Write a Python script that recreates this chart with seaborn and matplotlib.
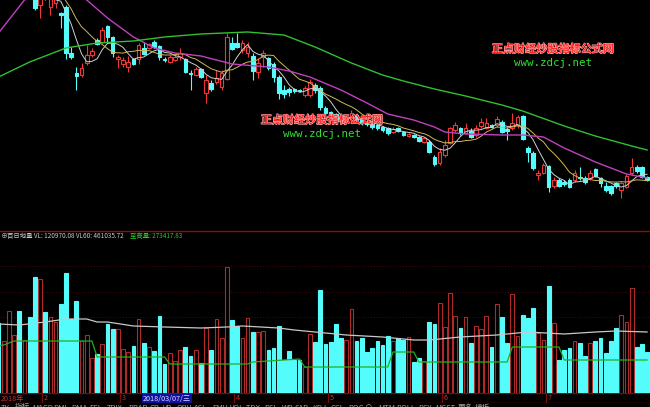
import numpy as np
import pandas as pd
import matplotlib
matplotlib.use("Agg")
import matplotlib.pyplot as plt
import matplotlib.patheffects as pe
import seaborn as sns

# daily candles, relative price units
opens = [255, 245, 250, 258, 266, 250, 256, 238, 225, 240, 223, 227, 217, 223, 177, 157, 155, 167, 175, 190,
         188, 204, 193, 171, 166, 163, 171, 171, 182, 182, 188, 184, 171, 168, 170, 173, 171, 157, 155, 161,
         137, 147, 148, 143, 151, 187, 187, 180, 177, 174, 158, 173, 172, 166, 153, 140, 141, 141, 140, 135,
         135, 145, 142, 122, 118, 116, 112, 109, 110, 115, 111, 108, 107, 105, 103, 102, 98, 102, 98, 94,
         95, 93, 88, 88, 73, 67, 75, 87, 100, 102, 97, 99, 95, 104, 102, 105, 105, 108, 101, 102,
         105, 114, 82, 77, 55, 57, 64, 44, 50, 48, 50, 50, 53, 52, 52, 61, 52, 44, 44, 47,
         40, 43, 57, 63, 63, 53]
highs = [260, 258, 265, 270, 268, 259, 258, 240, 234, 242, 235, 236, 218, 225, 183, 163, 167, 185, 182, 192,
         203, 205, 194, 175, 173, 174, 172, 187, 188, 187, 190, 185, 173, 175, 175, 182, 172, 160, 163, 162,
         155, 150, 160, 160, 197, 193, 197, 190, 188, 177, 172, 180, 173, 168, 155, 145, 143, 142, 141, 144,
         151, 147, 144, 124, 119, 117, 114, 115, 120, 116, 112, 109, 108, 106, 104, 103, 103, 103, 99, 97,
         96, 94, 93, 90, 75, 82, 90, 103, 108, 103, 107, 102, 105, 112, 112, 106, 114, 110, 103, 117,
         115, 115, 84, 79, 60, 67, 65, 53, 52, 50, 52, 60, 63, 54, 60, 62, 53, 48, 45, 48,
         48, 56, 72, 65, 64, 54]
lows = [242, 243, 248, 255, 247, 247, 236, 220, 212, 230, 215, 222, 202, 171, 171, 140, 153, 165, 173, 185,
        187, 188, 173, 162, 163, 158, 165, 166, 175, 181, 182, 170, 168, 167, 169, 170, 157, 140, 154, 152,
        127, 139, 146, 140, 150, 180, 182, 177, 173, 150, 152, 163, 160, 148, 131, 132, 134, 137, 138, 133,
        133, 137, 120, 115, 112, 108, 107, 107, 108, 108, 105, 104, 101, 100, 98, 95, 97, 98, 94, 93,
        92, 88, 87, 77, 64, 65, 73, 86, 98, 95, 96, 92, 93, 102, 101, 102, 103, 97, 90, 100,
        102, 90, 68, 60, 50, 56, 38, 42, 43, 44, 42, 48, 50, 46, 50, 53, 43, 38, 35, 42,
        32, 42, 55, 57, 52, 49]
closes = [245, 255, 262, 266, 250, 256, 240, 222, 232, 232, 232, 233, 215, 177, 173, 154, 162, 175, 179, 186,
          200, 193, 177, 173, 170, 168, 166, 185, 176, 186, 183, 173, 170, 173, 173, 177, 158, 156, 161, 153,
          150, 141, 152, 157, 193, 181, 183, 187, 183, 159, 167, 177, 162, 153, 137, 136, 138, 139, 139, 142,
          148, 140, 123, 117, 114, 110, 109, 113, 117, 110, 107, 106, 103, 102, 100, 97, 101, 99, 95, 96,
          93, 89, 92, 78, 66, 78, 85, 102, 105, 97, 102, 93, 102, 108, 107, 103, 111, 98, 99, 107,
          113, 91, 78, 62, 57, 65, 43, 50, 44, 46, 43, 57, 52, 48, 57, 54, 47, 40, 37, 44,
          47, 54, 63, 59, 53, 50]
volumes = [70, 52, 82, 58, 82, 53, 76, 116, 114, 81, 76, 71, 89, 120, 74, 92, 52, 58, 35, 39,
           49, 69, 64, 64, 44, 41, 47, 74, 50, 46, 42, 77, 29, 40, 32, 43, 46, 37, 43, 30,
           65, 43, 74, 55, 126, 73, 67, 55, 75, 61, 61, 62, 43, 45, 67, 33, 42, 33, 33, 26,
           59, 51, 103, 49, 51, 69, 55, 53, 84, 52, 55, 41, 45, 52, 48, 57, 52, 55, 53, 56,
           31, 35, 32, 71, 69, 90, 66, 100, 77, 65, 76, 50, 67, 64, 77, 46, 89, 76, 50, 99,
           57, 78, 75, 85, 60, 53, 107, 70, 33, 43, 45, 52, 50, 37, 50, 52, 55, 40, 52, 65,
           78, 71, 105, 46, 49, 41]

# long moving averages (day index, value)
ma20_days = [0, 5, 10, 14, 17, 21, 26, 30, 34, 39, 45, 52, 56, 60, 66, 71, 75, 80, 84, 86, 90, 97, 101, 105,
             109, 115, 121, 125]
ma20_vals = [197, 230, 243, 240, 230, 212, 193, 182, 177, 174, 166, 163, 159, 153, 140, 127, 116, 110, 103, 98,
             96, 95, 95, 93, 82, 68, 56, 52]
ma60_days = [0, 6, 13, 19, 26, 32, 39, 48, 55, 61, 68, 74, 78, 84, 90, 97, 101, 109, 115, 122, 125]
ma60_vals = [153, 168, 182, 187, 189, 193, 196, 198, 195, 183, 167, 155, 149, 141, 134, 125, 119, 104, 94, 84, 80]

# volume lines
vl60_days = [0, 4, 9, 13, 17, 19, 21, 26, 32, 39, 44, 47, 54, 57, 61, 67, 74, 80, 83, 89, 96, 102, 109, 115,
             119, 125]
vl60_vals = [69, 68, 71, 74, 74, 71, 71, 67, 66, 65, 66, 67, 65, 63, 61, 58, 56, 53, 53, 56, 58, 61, 59, 61,
             62, 61]
low_days = [0, 1, 2, 3, 18, 19, 32, 33, 48, 49, 58, 59, 75, 76, 80, 81, 98, 99, 108, 109, 125]
low_vals = [47, 48, 50, 52, 52, 36, 36, 29, 29, 31, 34, 26, 26, 41, 41, 31, 31, 46, 46, 33, 33]

month_labels = ["2018年", "2", "3", "4", "5", "6", "7"]
month_days = [0, 9, 24, 46, 64, 86, 106]

RED = "#f03838"
VRED = "#b02a2a"
CYAN = "#54fcfc"

sns.set_theme(style="dark", rc={"axes.facecolor": "black", "figure.facecolor": "black"})
plt.rcParams["font.family"] = ["Noto Sans CJK SC", "DejaVu Sans"]

W, H = 650, 407
fig = plt.figure(figsize=(6.5, 4.07), dpi=100, facecolor="black")
ax = fig.add_axes([0, 1 - 229 / H, 1, 229 / H])
axv = fig.add_axes([0, (H - 393) / H, 1, (393 - 230) / H])
axd = fig.add_axes([0, (H - 403) / H, 1, 10 / H])

df = pd.DataFrame({"day": np.arange(len(closes)), "open": opens, "high": highs,
                   "low": lows, "close": closes, "vol": volumes})
df["up"] = df["close"] >= df["open"]
df["ma5"] = df["close"].rolling(5, min_periods=1).mean()
df["ma10"] = df["close"].rolling(10, min_periods=1).mean()

xlim = (1.5 / 5.19, (W + 1.5) / 5.19)

# candles
for up, col in [(True, RED), (False, CYAN)]:
    d = df[df["up"] == up]
    ax.vlines(d["day"], d["low"], d["high"], color=col, linewidth=0.8, zorder=2)
    body = (d["close"] - d["open"]).abs().clip(lower=0.8)
    ax.bar(d["day"], body, bottom=d[["open", "close"]].min(axis=1), width=0.7,
           facecolor="black" if up else col, edgecolor=col, linewidth=0.8, zorder=3)

sns.lineplot(x=df["day"], y=df["ma5"], ax=ax, color="#d0d0d0", linewidth=0.7, zorder=4)
sns.lineplot(x=df["day"], y=df["ma10"], ax=ax, color="#d0b858", linewidth=0.7, zorder=4)
sns.lineplot(x=ma20_days, y=ma20_vals, ax=ax, color="#c040c0", linewidth=1.0, zorder=4)
sns.lineplot(x=ma60_days, y=ma60_vals, ax=ax, color="#30c030", linewidth=1.0, zorder=4)
ax.set_xlim(*xlim)
ax.set_ylim(1, 230)

# volume
for up, col in [(True, VRED), (False, CYAN)]:
    d = df[df["up"] == up]
    axv.bar(d["day"], d["vol"], width=0.72, facecolor="black" if up else col,
            edgecolor=col, linewidth=0.8, zorder=3)
for lv in [127, 101, 76]:
    axv.axhline(lv, color="#4a0808", linewidth=0.7, linestyle=(0, (1, 2)), zorder=1)
sns.lineplot(x=vl60_days, y=vl60_vals, ax=axv, color="#c8c8c8", linewidth=0.9, zorder=4)
sns.lineplot(x=low_days, y=low_vals, ax=axv, color="#20b020", linewidth=0.9, zorder=4)
axv.axhline(162.5, color="#900c0c", linewidth=1.0)
axv.set_xlim(*xlim)
axv.set_ylim(0, 163)

for a in (ax, axv, axd):
    a.set_facecolor("black")
    a.set_xticks([])
    a.set_yticks([])
    a.set_xlabel("")
    a.set_ylabel("")
    for s in a.spines.values():
        s.set_visible(False)

# date strip
axd.set_xlim(*xlim)
axd.set_ylim(0, 1)
axd.axhline(0.97, color="#7a0c0c", linewidth=1.0)
axd.axhline(0.03, color="#7a0c0c", linewidth=1.0)
for lab, dd in zip(month_labels, month_days):
    if dd > 0:
        axd.axvline(dd - 0.6, color="#7a0c0c", linewidth=0.8)
        axd.text(dd - 0.2, 0.45, lab, color="#c83232", fontsize=5.2, va="center", ha="left")
    else:
        axd.text(0.35, 0.45, lab, color="#c83232", fontsize=5.2, va="center", ha="left")
axd.text(27.8, 0.45, "2018/03/07/三", color="#e0e0ff", fontsize=5.2, va="center", ha="left",
         bbox=dict(boxstyle="square,pad=0.1", facecolor="#1010a0", edgecolor="none"))

# indicator caption
fig.text(0.5 / W, 1 - 236 / H, "⊕", color="#b0b0b0", fontsize=5, va="center")
fig.text(7 / W, 1 - 236 / H, "百日地量 VL: 120970.08 VL60: 461035.72", color="#c8c8c8",
         fontsize=4.6, va="center")
fig.text(130 / W, 1 - 236 / H, "至高量: 273417.83", color="#20d020", fontsize=4.6, va="center")

# watermarks
stroke = [pe.withStroke(linewidth=1.0, foreground="#ff9c9c")]
for cx, cy in [(553, 49), (322, 120)]:
    fig.text(cx / W, 1 - cy / H, "正点财经炒股指标公式网", color="#ff0a0a", fontsize=8,
             ha="center", va="center", path_effects=stroke)
    fig.text(cx / W, 1 - (cy + 14) / H, "www.zdcj.net", color="#30e030", fontsize=7.8,
             family="DejaVu Sans Mono", ha="center", va="center")

# bottom tab bar (cut off by the frame)
tabs = ["TK", "指标", "MACD", "DMI", "DMA", "FSL", "TRIX", "BRAR", "CR", "VR", "OBV", "ASI", "EMV",
        "VOL-TDX", "RSI", "WR", "SAR", "KDJ", "CCI", "ROC", "⊙", "MTM", "BOLL", "PSY", "MCST", "更多", "模板"]
xpos = 1
for t in tabs:
    fig.text(xpos / W, 1 - 403.5 / H, t, color="#a0a0a0", fontsize=5.5, va="top", ha="left")
    xpos += 5 + 4.2 * len(t) + (4 if any(ord(ch) > 255 for ch in t) else 0)

fig.savefig("out.png", dpi=100, facecolor="black")
